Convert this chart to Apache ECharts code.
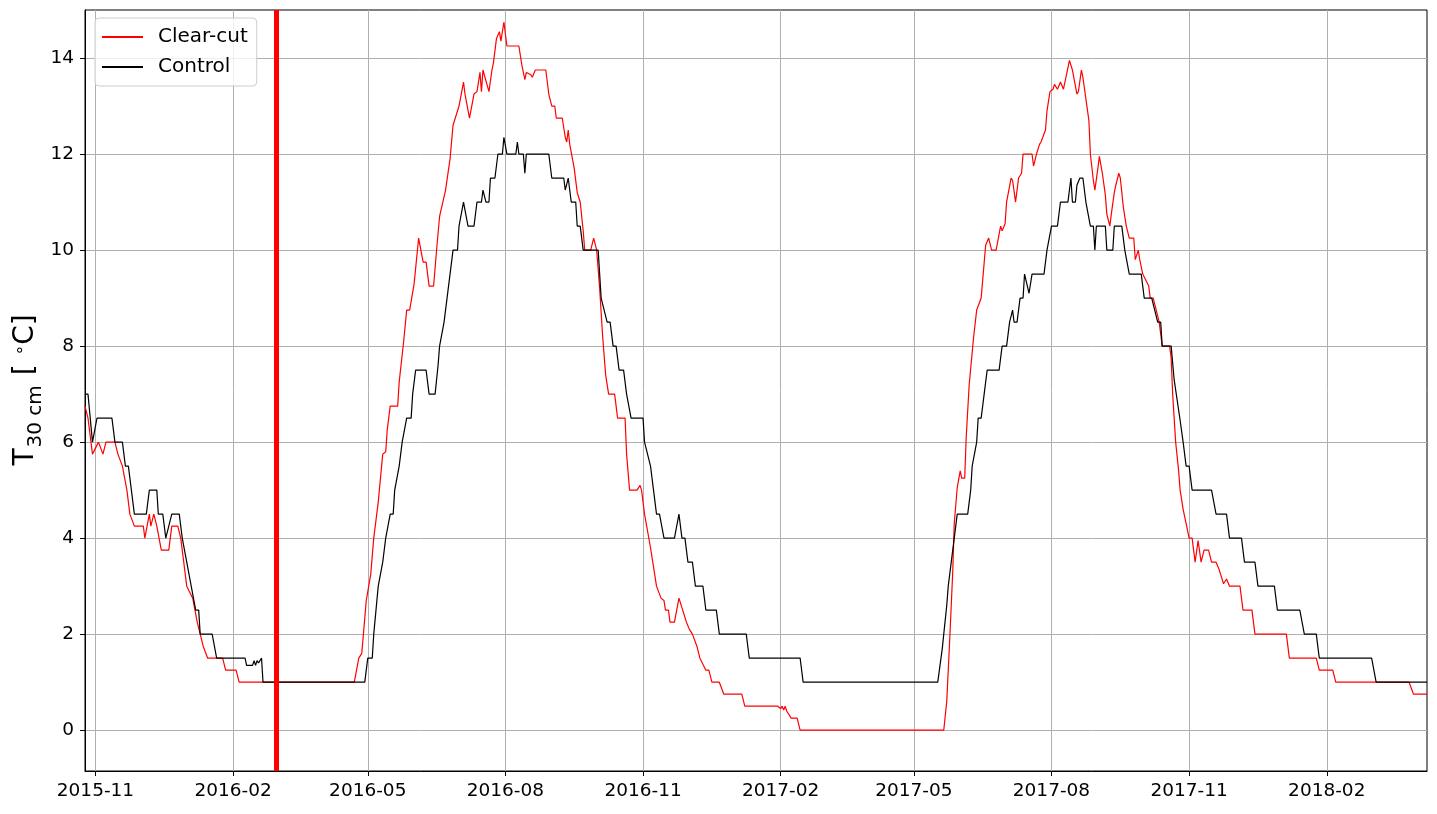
<!DOCTYPE html>
<html>
<head>
<meta charset="utf-8">
<script src="https://cdn.jsdelivr.net/npm/echarts@6/dist/echarts.min.js"></script>
<style>
html,body{margin:0;padding:0;background:#fff;}
#chart{width:1437px;height:814px;}
</style>
</head>
<body>
<div id="chart"></div>
<script>
// ---- data ----
const xTickMonths = ['2015-11','2016-02','2016-05','2016-08','2016-11','2017-02','2017-05','2017-08','2017-11','2018-02'];
const yTicks = [0, 2, 4, 6, 8, 10, 12, 14];
const xRange = ['2015-10-25', '2018-04-09'];
const cutDate = '2016-03-01';
const yTitle = '{a|T}{b|30 cm}{a| [ }{c|∘}{a|C]}';

const clearCut = [
['2015-10-25',6.75],['2015-10-27',6.5],['2015-10-30',5.75],['2015-11-03',6.0],['2015-11-04',6.0],
['2015-11-06',5.75],['2015-11-08',6.0],['2015-11-14',6.0],['2015-11-16',5.75],['2015-11-19',5.5],
['2015-11-22',5.0],['2015-11-24',4.5],['2015-11-27',4.25],['2015-12-03',4.25],['2015-12-04',4.0],
['2015-12-07',4.5],['2015-12-08',4.25],['2015-12-10',4.5],['2015-12-12',4.25],['2015-12-15',3.75],
['2015-12-20',3.75],['2015-12-22',4.25],['2015-12-26',4.25],['2015-12-28',4.0],['2015-12-30',3.5],
['2016-01-01',3.0],['2016-01-05',2.75],['2016-01-08',2.25],['2016-01-12',1.75],['2016-01-15',1.5],
['2016-01-25',1.5],['2016-01-27',1.25],['2016-02-03',1.25],['2016-02-05',1.0],['2016-04-22',1.0],
['2016-04-25',1.5],['2016-04-27',1.6],['2016-04-30',2.7],['2016-05-03',3.25],['2016-05-05',4.0],
['2016-05-08',4.75],['2016-05-11',5.75],['2016-05-13',5.8],['2016-05-14',6.25],['2016-05-16',6.75],
['2016-05-21',6.75],['2016-05-22',7.25],['2016-05-25',8.1],['2016-05-27',8.75],['2016-05-29',8.75],
['2016-06-01',9.3],['2016-06-04',10.25],['2016-06-07',9.75],['2016-06-09',9.75],['2016-06-11',9.25],
['2016-06-14',9.25],['2016-06-16',10.0],['2016-06-18',10.7],['2016-06-22',11.25],['2016-06-25',11.9],
['2016-06-27',12.6],['2016-07-01',13.0],['2016-07-04',13.5],['2016-07-05',13.25],['2016-07-08',12.75],
['2016-07-11',13.25],['2016-07-13',13.3],['2016-07-15',13.7],['2016-07-16',13.3],['2016-07-17',13.75],
['2016-07-21',13.3],['2016-07-23',13.75],['2016-07-24',13.9],['2016-07-26',14.4],['2016-07-28',14.55],
['2016-07-29',14.35],['2016-07-31',14.75],['2016-08-01',14.75],['2016-08-02',14.25],['2016-08-10',14.25],
['2016-08-12',13.85],['2016-08-14',13.55],['2016-08-15',13.7],['2016-08-18',13.65],['2016-08-19',13.6],
['2016-08-21',13.75],['2016-08-28',13.75],['2016-08-30',13.25],['2016-09-01',13.0],['2016-09-03',13.0],
['2016-09-04',12.75],['2016-09-08',12.75],['2016-09-10',12.35],['2016-09-11',12.25],['2016-09-12',12.5],
['2016-09-13',12.2],['2016-09-16',11.7],['2016-09-18',11.2],['2016-09-20',11.0],['2016-09-22',10.4],
['2016-09-23',10.0],['2016-09-27',10.0],['2016-09-29',10.25],['2016-10-01',10.0],['2016-10-03',9.2],
['2016-10-05',8.2],['2016-10-07',7.4],['2016-10-09',7.0],['2016-10-13',7.0],['2016-10-15',6.5],
['2016-10-20',6.5],['2016-10-21',5.75],['2016-10-23',5.0],['2016-10-28',5.0],['2016-10-30',5.1],
['2016-10-31',5.0],['2016-11-02',4.5],['2016-11-06',3.8],['2016-11-08',3.4],['2016-11-10',3.0],
['2016-11-11',3.0],['2016-11-13',2.75],['2016-11-15',2.7],['2016-11-16',2.5],['2016-11-18',2.5],
['2016-11-19',2.25],['2016-11-22',2.25],['2016-11-25',2.75],['2016-11-26',2.75],['2016-11-28',2.45],
['2016-11-30',2.25],['2016-12-02',2.1],['2016-12-04',2.0],['2016-12-07',1.75],['2016-12-09',1.5],
['2016-12-13',1.25],['2016-12-15',1.25],['2016-12-17',1.0],['2016-12-22',1.0],['2016-12-25',0.75],
['2017-01-06',0.75],['2017-01-08',0.5],['2017-01-30',0.5],['2017-02-01',0.45],['2017-02-02',0.5],
['2017-02-03',0.42],['2017-02-04',0.5],['2017-02-05',0.4],['2017-02-08',0.25],['2017-02-12',0.25],
['2017-02-14',0.0],['2017-05-21',0.0],['2017-05-23',0.6],['2017-05-25',1.9],['2017-05-27',3.3],
['2017-05-28',4.3],['2017-05-30',5.05],['2017-06-01',5.4],['2017-06-02',5.25],['2017-06-04',5.25],
['2017-06-05',6.1],['2017-06-07',7.2],['2017-06-10',8.2],['2017-06-12',8.75],['2017-06-15',9.0],
['2017-06-18',10.1],['2017-06-20',10.25],['2017-06-22',10.0],['2017-06-25',10.0],['2017-06-28',10.5],
['2017-06-29',10.4],['2017-07-01',10.55],['2017-07-02',11.0],['2017-07-05',11.5],['2017-07-06',11.45],
['2017-07-08',11.0],['2017-07-10',11.5],['2017-07-12',11.6],['2017-07-13',12.0],['2017-07-19',12.0],
['2017-07-20',11.75],['2017-07-22',12.0],['2017-07-24',12.2],['2017-07-25',12.25],['2017-07-28',12.5],
['2017-07-29',12.9],['2017-07-31',13.3],['2017-08-02',13.35],['2017-08-03',13.45],['2017-08-05',13.35],
['2017-08-07',13.5],['2017-08-09',13.35],['2017-08-11',13.65],['2017-08-13',13.95],['2017-08-15',13.75],
['2017-08-18',13.25],['2017-08-19',13.3],['2017-08-21',13.75],['2017-08-22',13.6],['2017-08-24',13.15],
['2017-08-26',12.7],['2017-08-27',12.0],['2017-08-29',11.45],['2017-08-30',11.25],['2017-09-01',11.7],
['2017-09-02',11.95],['2017-09-04',11.6],['2017-09-06',11.15],['2017-09-07',10.75],['2017-09-09',10.5],
['2017-09-10',10.75],['2017-09-12',11.2],['2017-09-13',11.35],['2017-09-15',11.6],['2017-09-16',11.5],
['2017-09-18',10.9],['2017-09-20',10.5],['2017-09-22',10.25],['2017-09-25',10.25],['2017-09-26',9.8],
['2017-09-28',10.0],['2017-09-29',9.8],['2017-10-01',9.5],['2017-10-02',9.5],['2017-10-05',9.25],
['2017-10-06',9.0],['2017-10-08',9.0],['2017-10-10',8.75],['2017-10-12',8.5],['2017-10-14',8.0],
['2017-10-19',8.0],['2017-10-20',7.75],['2017-10-21',7.0],['2017-10-23',6.0],['2017-10-25',5.4],
['2017-10-26',5.0],['2017-10-28',4.6],['2017-10-30',4.3],['2017-11-01',4.0],['2017-11-03',4.0],
['2017-11-05',3.5],['2017-11-07',3.95],['2017-11-09',3.5],['2017-11-11',3.75],['2017-11-14',3.75],
['2017-11-16',3.5],['2017-11-19',3.5],['2017-11-21',3.35],['2017-11-24',3.05],['2017-11-26',3.15],
['2017-11-28',3.0],['2017-12-05',3.0],['2017-12-07',2.5],['2017-12-13',2.5],['2017-12-15',2.0],
['2018-01-05',2.0],['2018-01-07',1.5],['2018-01-25',1.5],['2018-01-27',1.25],['2018-02-05',1.25],
['2018-02-07',1.0],['2018-03-28',1.0],['2018-03-31',0.75],['2018-04-09',0.75]
];

const control = [
['2015-10-25',7.0],['2015-10-27',7.0],['2015-10-30',6.0],['2015-11-02',6.5],['2015-11-12',6.5],
['2015-11-14',6.0],['2015-11-19',6.0],['2015-11-21',5.5],['2015-11-23',5.5],['2015-11-27',4.5],
['2015-12-05',4.5],['2015-12-07',5.0],['2015-12-12',5.0],['2015-12-13',4.5],['2015-12-16',4.5],
['2015-12-18',4.0],['2015-12-22',4.5],['2015-12-27',4.5],['2015-12-29',4.0],['2016-01-01',3.5],
['2016-01-02',3.5],['2016-01-04',3.0],['2016-01-05',3.0],['2016-01-07',2.5],['2016-01-09',2.5],
['2016-01-10',2.0],['2016-01-18',2.0],['2016-01-21',1.5],['2016-02-09',1.5],['2016-02-10',1.35],
['2016-02-14',1.35],['2016-02-15',1.45],['2016-02-16',1.35],['2016-02-17',1.45],['2016-02-18',1.4],
['2016-02-20',1.5],['2016-02-21',1.0],['2016-04-29',1.0],['2016-05-01',1.5],['2016-05-04',1.5],
['2016-05-05',2.0],['2016-05-08',3.0],['2016-05-11',3.5],['2016-05-13',4.0],['2016-05-16',4.5],
['2016-05-18',4.5],['2016-05-19',5.0],['2016-05-22',5.5],['2016-05-24',6.0],['2016-05-27',6.5],
['2016-05-30',6.5],['2016-05-31',7.0],['2016-06-02',7.5],['2016-06-09',7.5],['2016-06-11',7.0],
['2016-06-15',7.0],['2016-06-17',7.6],['2016-06-18',8.0],['2016-06-21',8.5],['2016-06-23',9.0],
['2016-06-25',9.5],['2016-06-27',10.0],['2016-06-30',10.0],['2016-07-01',10.5],['2016-07-02',10.5],
['2016-07-04',11.0],['2016-07-05',11.0],['2016-07-07',10.5],['2016-07-11',10.5],['2016-07-13',11.0],
['2016-07-16',11.0],['2016-07-17',11.25],['2016-07-19',11.0],['2016-07-21',11.0],['2016-07-22',11.5],
['2016-07-25',11.5],['2016-07-27',12.0],['2016-07-30',12.0],['2016-07-31',12.35],['2016-08-02',12.0],
['2016-08-08',12.0],['2016-08-09',12.25],['2016-08-10',12.0],['2016-08-13',12.0],['2016-08-14',11.6],
['2016-08-15',12.0],['2016-08-30',12.0],['2016-09-01',11.5],['2016-09-09',11.5],['2016-09-10',11.25],
['2016-09-12',11.5],['2016-09-14',11.0],['2016-09-17',11.0],['2016-09-18',10.5],['2016-09-20',10.5],
['2016-09-22',10.0],['2016-10-02',10.0],['2016-10-04',9.0],['2016-10-08',8.5],['2016-10-10',8.5],
['2016-10-12',8.0],['2016-10-14',8.0],['2016-10-16',7.5],['2016-10-19',7.5],['2016-10-21',7.0],
['2016-10-24',6.5],['2016-11-01',6.5],['2016-11-02',6.0],['2016-11-06',5.5],['2016-11-08',5.0],
['2016-11-10',4.5],['2016-11-12',4.5],['2016-11-15',4.0],['2016-11-22',4.0],['2016-11-25',4.5],
['2016-11-27',4.0],['2016-11-29',4.0],['2016-12-01',3.5],['2016-12-04',3.5],['2016-12-06',3.0],
['2016-12-11',3.0],['2016-12-13',2.5],['2016-12-20',2.5],['2016-12-22',2.0],['2017-01-09',2.0],
['2017-01-11',1.5],['2017-02-14',1.5],['2017-02-16',1.0],['2017-05-17',1.0],['2017-05-20',1.7],
['2017-05-21',2.0],['2017-05-23',2.6],['2017-05-24',3.0],['2017-05-26',3.5],['2017-05-28',4.0],
['2017-05-30',4.5],['2017-06-06',4.5],['2017-06-08',5.0],['2017-06-09',5.5],['2017-06-12',6.0],
['2017-06-13',6.5],['2017-06-15',6.5],['2017-06-17',7.0],['2017-06-19',7.5],['2017-06-27',7.5],
['2017-06-29',8.0],['2017-07-02',8.0],['2017-07-04',8.5],['2017-07-06',8.75],['2017-07-07',8.5],
['2017-07-09',8.5],['2017-07-11',9.0],['2017-07-13',9.0],['2017-07-14',9.5],['2017-07-17',9.1],
['2017-07-19',9.5],['2017-07-27',9.5],['2017-07-29',10.0],['2017-07-30',10.0],['2017-08-01',10.5],
['2017-08-05',10.5],['2017-08-07',11.0],['2017-08-12',11.0],['2017-08-14',11.5],['2017-08-15',11.0],
['2017-08-17',11.0],['2017-08-18',11.35],['2017-08-20',11.5],['2017-08-22',11.5],['2017-08-24',11.0],
['2017-08-25',11.0],['2017-08-27',10.5],['2017-08-29',10.5],['2017-08-30',10.0],['2017-08-31',10.5],
['2017-09-06',10.5],['2017-09-07',10.0],['2017-09-11',10.0],['2017-09-12',10.5],['2017-09-17',10.5],
['2017-09-19',10.0],['2017-09-20',10.0],['2017-09-22',9.5],['2017-09-30',9.5],['2017-10-02',9.0],
['2017-10-07',9.0],['2017-10-09',8.75],['2017-10-11',8.5],['2017-10-13',8.5],['2017-10-14',8.0],
['2017-10-20',8.0],['2017-10-22',7.3],['2017-10-26',6.45],['2017-10-28',6.0],['2017-10-30',5.5],
['2017-11-01',5.5],['2017-11-03',5.0],['2017-11-16',5.0],['2017-11-19',4.5],['2017-11-26',4.5],
['2017-11-28',4.0],['2017-12-06',4.0],['2017-12-08',3.5],['2017-12-15',3.5],['2017-12-17',3.0],
['2017-12-28',3.0],['2017-12-30',2.5],['2018-01-14',2.5],['2018-01-17',2.0],['2018-01-25',2.0],
['2018-01-27',1.5],['2018-03-03',1.5],['2018-03-06',1.0],['2018-04-09',1.0]
];

// ---- chart ----
const FONT = 'DejaVu Sans';
function ts(s) { const p = s.split('-'); return new Date(+p[0], +p[1] - 1, p[2] ? +p[2] : 1).getTime(); }
const xTickValues = xTickMonths.map(ts);
const toPts = arr => arr.map(d => [ts(d[0]), d[1]]);

const chart = echarts.init(document.getElementById('chart'), null, { renderer: 'canvas' });
chart.setOption({
  animation: false,
  backgroundColor: '#ffffff',
  textStyle: { fontFamily: FONT },
  grid: { left: 85, right: 10, top: 10, bottom: 43, show: true, borderColor: '#000', borderWidth: 1, backgroundColor: 'transparent' },
  graphic: [{
    type: 'text', x: 29, y: 390, rotation: Math.PI / 2, silent: true,
    style: {
      text: yTitle, align: 'center', verticalAlign: 'middle', fill: '#000',
      font: '28px "DejaVu Sans"',
      rich: {
        a: { fontSize: 28, fontFamily: FONT, fill: '#000', verticalAlign: 'bottom', padding: [0, 0, 6, 0] },
        b: { fontSize: 20, fontFamily: FONT, fill: '#000', verticalAlign: 'bottom', padding: [0, 1, 0, 1] },
        c: { fontSize: 17, fontFamily: FONT, fill: '#000', verticalAlign: 'top', padding: [0, 0, 0, 0] }
      }
    }
  }],
  legend: {
    left: 95, top: 18, orient: 'vertical',
    data: ['Clear-cut', 'Control'],
    icon: 'rect', itemWidth: 41, itemHeight: 2, itemGap: 10,
    padding: [9, 9, 9, 7],
    borderColor: '#cccccc', borderWidth: 1, borderRadius: 4,
    backgroundColor: 'rgba(255,255,255,0.8)',
    textStyle: { fontFamily: FONT, fontSize: 20, color: '#000', padding: [0, 0, 0, 10] }
  },
  xAxis: {
    type: 'value',
    min: ts(xRange[0]), max: ts(xRange[1]),
    axisLine: { show: true, onZero: false, lineStyle: { color: '#000', width: 1 } },
    axisTick: { show: true, inside: false, length: 5, lineStyle: { color: '#000' }, customValues: xTickValues },
    axisLabel: {
      customValues: xTickValues, margin: 11, color: '#000', fontFamily: FONT, fontSize: 18.5,
      formatter: function (v) { const d = new Date(v); return d.getFullYear() + '-' + String(d.getMonth() + 1).padStart(2, '0'); }
    },
    splitLine: { show: true, lineStyle: { color: '#b0b0b0', width: 1 } }
  },
  yAxis: {
    type: 'value',
    min: -0.85, max: 15,
    axisLine: { show: true, onZero: false, lineStyle: { color: '#000', width: 1 } },
    axisTick: { show: true, inside: false, length: 5, lineStyle: { color: '#000' }, customValues: yTicks },
    axisLabel: { customValues: yTicks, margin: 11, color: '#000', fontFamily: FONT, fontSize: 18.5 },
    splitLine: { show: true, lineStyle: { color: '#b0b0b0', width: 1 } }
  },
  series: [
    {
      name: 'Clear-cut', type: 'line', data: toPts(clearCut), symbol: 'none',
      color: '#ff0000', lineStyle: { color: '#ff0000', width: 1.2 }, z: 2
    },
    {
      name: 'Control', type: 'line', data: toPts(control), symbol: 'none',
      color: '#000000', lineStyle: { color: '#000000', width: 1.2 }, z: 3
    },
    {
      name: 'cut', type: 'line', data: [], z: 5, silent: true,
      markLine: {
        silent: true, symbol: ['none', 'none'], animation: false,
        label: { show: false },
        lineStyle: { color: '#ff0000', width: 5, type: 'solid' },
        emphasis: { disabled: true },
        data: [{ xAxis: ts(cutDate) }]
      }
    }
  ]
});
</script>
</body>
</html>
